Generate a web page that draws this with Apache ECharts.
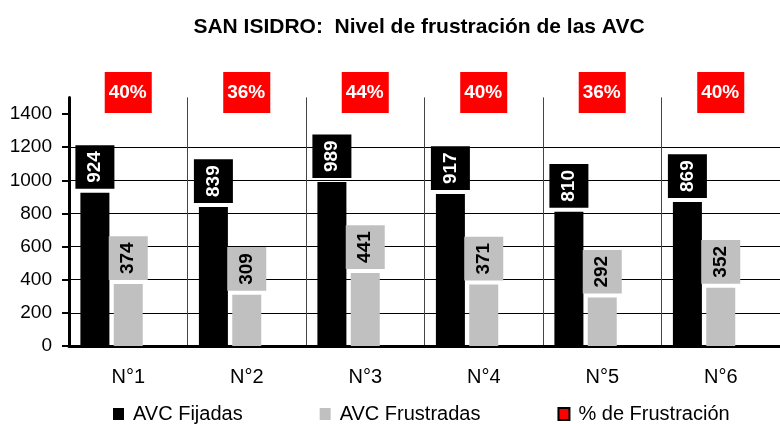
<!DOCTYPE html>
<html>
<head>
<meta charset="utf-8">
<script src="https://cdn.jsdelivr.net/npm/echarts@6/dist/echarts.min.js"></script>
<style>
  html, body { margin: 0; padding: 0; background: #fff; }
  #chart { width: 780px; height: 424px; }
</style>
</head>
<body>
<div id="chart"></div>
<script>
const categories = ['N°1', 'N°2', 'N°3', 'N°4', 'N°5', 'N°6']
const fijadas = [924, 839, 989, 917, 810, 869]
const frustradas = [374, 309, 441, 371, 292, 352]
const pctFrustracion = [40, 36, 44, 40, 36, 40]
const yTicks = [0, 200, 400, 600, 800, 1000, 1200, 1400]

const font = 'Liberation Sans, Arial, sans-serif'

const chart = echarts.init(document.getElementById('chart'))

// etiqueta vertical encima de cada barra
const barLabel = (bg, fg) => ({
  show: true,
  position: 'top',
  rotate: 90,
  align: 'left',
  verticalAlign: 'middle',
  distance: 4,
  backgroundColor: bg,
  color: fg,
  fontFamily: font,
  fontWeight: 'bold',
  fontSize: 19,
  padding: [10, 6, 10, 6]
})

const option = {
  animation: false,
  title: {
    text: 'SAN ISIDRO:  Nivel de frustración de las AVC',
    left: 414,
    textAlign: 'center',
    top: 12,
    textStyle: { fontFamily: font, fontWeight: 'bold', fontSize: 21, color: '#000' }
  },
  legend: {
    data: ['AVC Fijadas', 'AVC Frustradas', '% de Frustración'],
    icon: 'rect',
    itemWidth: 11,
    itemHeight: 12,
    itemGap: 77,
    left: 108,
    top: 399,
    textStyle: { fontFamily: font, fontSize: 20, color: '#000', padding: [0, 0, 0, 4] }
  },
  grid: { left: 69, right: -4, top: 97.4, bottom: 78 },
  xAxis: [
    {
      type: 'category',
      data: categories,
      axisLine: { lineStyle: { color: '#000', width: 3 } },
      axisTick: { length: 6, lineStyle: { color: '#000', width: 2 } },
      splitLine: { show: true, lineStyle: { color: '#444', width: 1 } },
      axisLabel: { fontFamily: font, fontSize: 20, color: '#000', margin: 21 }
    },
    {
      // porcentajes arriba de cada grupo
      type: 'category',
      position: 'top',
      data: pctFrustracion.map(v => v + '%'),
      axisLine: { show: false },
      axisTick: { show: false },
      axisLabel: {
        margin: 5,
        verticalAlign: 'middle',
        backgroundColor: '#ff0000',
        color: '#fff',
        fontFamily: font,
        fontWeight: 'bold',
        fontSize: 19,
        padding: [9, 5, 13, 4]
      }
    }
  ],
  yAxis: {
    type: 'value',
    min: 0,
    max: 1500,
    interval: 100,
    axisLine: { show: true, lineStyle: { color: '#000', width: 3 } },
    axisTick: { show: true, length: 7, customValues: yTicks, lineStyle: { color: '#000', width: 2 } },
    axisLabel: {
      customValues: yTicks,
      formatter: v => String(v),
      fontFamily: font,
      fontSize: 19,
      color: '#000',
      margin: 17
    },
    splitLine: { showMaxLine: false, lineStyle: { color: '#000', width: 1 } }
  },
  series: [
    {
      name: 'AVC Fijadas',
      type: 'bar',
      data: fijadas,
      barWidth: 29,
      barGap: '15%',
      itemStyle: { color: '#000' },
      label: barLabel('#000', '#fff')
    },
    {
      name: 'AVC Frustradas',
      type: 'bar',
      data: frustradas,
      barWidth: 29,
      itemStyle: { color: '#c0c0c0' },
      label: barLabel('#c0c0c0', '#000')
    },
    {
      // hueco de la tercera serie (los % van en el eje superior)
      name: '% de Frustración',
      type: 'bar',
      data: [],
      barWidth: 29,
      itemStyle: { color: '#ff0000', borderColor: '#000', borderWidth: 1 }
    }
  ]
}

chart.setOption(option)
</script>
</body>
</html>
